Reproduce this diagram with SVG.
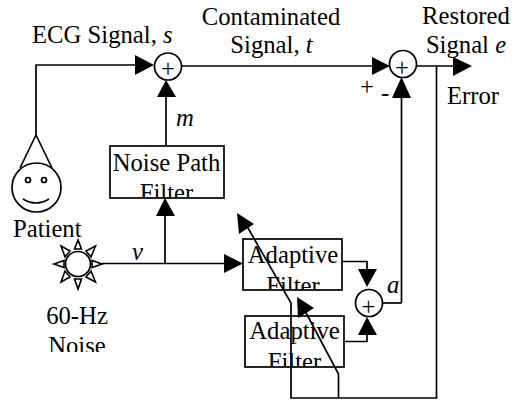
<svg xmlns="http://www.w3.org/2000/svg" width="516" height="402" viewBox="0 0 516 402">
<style>
.t{font-family:"Liberation Serif","Times New Roman",serif;font-size:24.7px;fill:#000}
.i{font-style:italic}
.m{text-anchor:middle}
.l{fill:none;stroke:#000;stroke-width:1.7}
.b{fill:#fff;stroke:#000;stroke-width:1.7}
.a{fill:#000;stroke:none}
.o{fill:#fff;stroke:#000;stroke-width:1.6;stroke-linejoin:miter}
</style>
<defs>
<clipPath id="c1"><rect x="110" y="146" width="114" height="52"/></clipPath>
<clipPath id="c2"><rect x="243" y="239" width="99" height="51"/></clipPath>
<clipPath id="c3"><rect x="245" y="316" width="99" height="51"/></clipPath>
<clipPath id="c4"><rect x="0" y="300" width="140" height="52"/></clipPath>
</defs>
<g id="noise-path-filter"><rect class="b" x="110" y="146" width="114" height="52"/><g clip-path="url(#c1)"><text class="t m" x="166.500" y="171">Noise Path</text><text class="t m" x="166.500" y="201">Filter</text></g></g>
<g id="adaptive-filter-1"><rect class="b" x="243" y="239" width="99" height="51"/><g clip-path="url(#c2)"><text class="t m" x="293" y="263">Adaptive</text><text class="t m" x="293" y="294">Filter</text></g></g>
<g id="adaptive-filter-2"><rect class="b" x="245" y="316" width="99" height="51"/><g clip-path="url(#c3)"><text class="t m" x="294.500" y="339">Adaptive</text><text class="t m" x="294.500" y="370">Filter</text></g></g>
<g id="connectors">
<path class="l" d="M36 135V65H136"/>
<path class="l" d="M182 66H373"/>
<path class="l" d="M417 66H454"/>
<path class="l" d="M166 146V96"/>
<path class="l" d="M165 263.500V215"/>
<path class="l" d="M102 263.500H225"/>
<path class="l" d="M401.500 303V97"/>
<path class="l" d="M436.500 66V398H291V303L244 221"/>
<path class="l" d="M338.500 398V374L304 309"/>
<path class="l" d="M343 261.500H367V270"/>
<path class="l" d="M344 341.500H367V334"/>
<path class="l" d="M383 303H401.500"/>
<path class="a" d="M154 65L135 55V75Z"/>
<path class="a" d="M166 80L157 97H176Z"/>
<path class="a" d="M165 198L156 216H175Z"/>
<path class="a" d="M390 66L372 57V75Z"/>
<path class="a" d="M401.500 77L392 98H411Z"/>
<path class="a" d="M472 66L453 57V76Z"/>
<path class="a" d="M243 263.500L224 254V273Z"/>
<path class="a" d="M237 213L254 224L239 234Z"/>
<path class="a" d="M297 297L314 308L298 318Z"/>
<path class="a" d="M367 287L358 269H377Z"/>
<path class="a" d="M367 317L358 335H377Z"/>
</g>
<g id="sum1"><circle class="b" cx="168" cy="66.500" r="13.500"/><text class="t m" x="168" y="77">+</text></g>
<g id="sum2"><circle class="b" cx="403" cy="64" r="13.500"/><text class="t m" x="402" y="76">+</text></g>
<g id="sum3"><circle class="b" cx="369" cy="303" r="13.500"/><text class="t m" x="368.500" y="315">+</text></g>
<g id="patient">
<path class="l" d="M36 135L20 168M36 135L52 168"/>
<circle class="b" cx="36.500" cy="187.500" r="24.500"/>
<circle class="b" cx="28" cy="180" r="2.500"/><circle class="b" cx="44" cy="180" r="2.500"/>
<path class="l" d="M23 199Q36 207 49 199"/>
<text class="t" x="13" y="237">Patient</text>
</g>
<g id="noise-source">
<circle class="b" cx="78" cy="264" r="12.500"/>
<path class="o" d="M78 240L74.500 249H81.500ZM78 289L74.500 279H81.500ZM54 264L64 260.500V267.500ZM102 264L92 260.500V267.500ZM61 246L70 251L65 257ZM95.500 246L86 251L91 257ZM61 282L70 277L65 271ZM95.500 282L86 277L91 271Z"/>
<g clip-path="url(#c4)"><text class="t m" x="77" y="324">60-Hz</text><text class="t m" x="77" y="353.500">Noise</text></g>
</g>
<g id="labels">
<text class="t" x="32" y="43">ECG Signal, <tspan class="i">s</tspan></text>
<text class="t m" x="271" y="25">Contaminated</text>
<text class="t m" x="271.500" y="53">Signal, <tspan class="i">t</tspan></text>
<text class="t m" x="466" y="24">Restored</text>
<text class="t m" x="466" y="53">Signal <tspan class="i">e</tspan></text>
<text class="t" x="447" y="104">Error</text>
<text class="t" x="360" y="95">+</text>
<text class="t" x="381" y="101">-</text>
<text class="t i" x="176" y="126">m</text>
<text class="t i" x="132" y="260">v</text>
<text class="t i" x="387" y="293">a</text>
</g>
</svg>
